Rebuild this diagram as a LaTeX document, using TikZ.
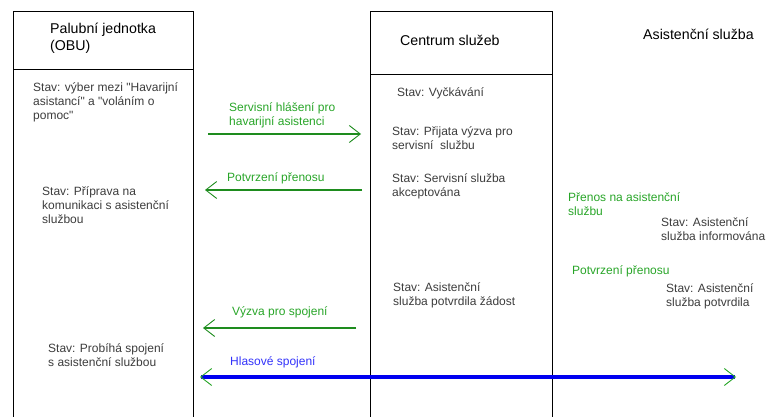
\documentclass[tikz,border=0pt]{standalone}
\usepackage{fontspec}
\setmainfont{Liberation Sans}[Ligatures=TeXOff]
\usetikzlibrary{arrows.meta,positioning}
\definecolor{msggreen}{RGB}{30,140,30}
\definecolor{lblgreen}{RGB}{40,165,40}
\definecolor{voiceblue}{RGB}{0,0,240}
\definecolor{lblblue}{RGB}{50,50,250}
\definecolor{stategray}{RGB}{60,60,60}
\tikzset{
  lane/.style={line width=1pt,black},
  head/.style={anchor=north west,inner sep=0,align=left,font=\fontsize{14.2}{17}\selectfont},
  state/.style={anchor=north west,inner sep=0,align=left,text=stategray,font=\fontsize{12}{14}\selectfont},
  msglbl/.style={state,text=lblgreen},
  msg/.style={msggreen,line width=2.5pt,-{Straight Barb[line width=0.9pt,length=11pt,width=17pt,color=msggreen]}},
  voice/.style={voiceblue,line width=4pt,{Straight Barb[line width=0.9pt,length=11pt,width=17pt,color=lblgreen]}-{Straight Barb[line width=0.9pt,length=11pt,width=17pt,color=lblgreen]}}
}
\begin{document}
\begin{tikzpicture}[x=1pt,y=-1pt]
  \useasboundingbox (0,0) rectangle (768,417);
  % lanes
  \draw[lane] (13,417)--(13,12)--(193,12)--(193,417);
  \draw[lane] (13,70)--(193,70);
  \draw[lane] (370,417)--(370,12)--(552,12)--(552,417);
  \draw[lane] (370,75)--(552,75);
  % headers
  \node[head] (obu) at (50,23) {Palubní jednotka\\(OBU)};
  \node[head] (centrum) at (400,35) {Centrum služeb};
  \node[head] (asist) at (643,29) {Asistenční služba};
  % states
  \node[state] (s1) at (33,82) {Stav: výber mezi "Havarijní\\asistancí" a "voláním o\\pomoc"};
  \node[state] (s2) at (42,186) {Stav: Příprava na\\komunikaci s asistenční\\službou};
  \node[state] (s3) at (48,343) {Stav: Probíhá spojení\\s asistenční službou};
  \node[state] (c1) at (397,87) {Stav: Vyčkávání};
  \node[state] (c2) at (392,126) {Stav: Přijata výzva pro\\servisní~ službu};
  \node[state] (c3) at (392,173) {Stav: Servisní služba\\akceptována};
  \node[state] (c4) at (393,282) {Stav: Asistenční\\služba potvrdila žádost};
  \node[state] (a1) at (661,217) {Stav: Asistenční\\služba informována};
  \node[state] (a2) at (666,283) {Stav: Asistenční\\služba potvrdila};
  % messages
  \node[msglbl] (m1) at (229,102) {Servisní hlášení pro\\havarijní asistenci};
  \node[msglbl] (m2) at (227,172) {Potvrzení přenosu};
  \node[msglbl] (m3) at (568,192) {Přenos na asistenční\\službu};
  \node[msglbl] (m4) at (572,265) {Potvrzení přenosu};
  \node[msglbl] (m5) at (232,306) {Výzva pro spojení};
  \node[msglbl,text=lblblue] (m6) at (230,356) {Hlasové spojení};
  \coordinate (p1a) at (208,134);  \coordinate (p1b) at (361,134);
  \coordinate (p2a) at (362,190);  \coordinate (p2b) at (205,190);
  \coordinate (p3a) at (356,328);  \coordinate (p3b) at (203,328);
  \coordinate (v1) at (200,377);   \coordinate (v2) at (736,377);
  \draw[msg] (p1a)--(p1b);
  \draw[msg] (p2a)--(p2b);
  \draw[msg] (p3a)--(p3b);
  \draw[voice] (v1)--(v2);
\end{tikzpicture}
\end{document}
